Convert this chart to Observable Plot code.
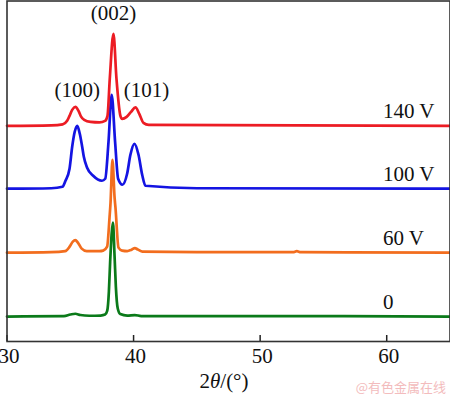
<!DOCTYPE html>
<html><head><meta charset="utf-8">
<script src="https://cdn.jsdelivr.net/npm/d3@7"></script>
<script src="https://cdn.jsdelivr.net/npm/@observablehq/plot@0.6"></script>
<style>body{margin:0;background:#fff} svg{display:block;overflow:hidden}</style>
</head><body><div id="chart"></div>
<script>
// series (bottom to top)
const seriesNames = ["0", "60 V", "100 V", "140 V"];
const seriesOffsets = [25, 89, 153, 216];
const seriesColors = ["#0b7a1a", "#f26d1e", "#1414e2", "#ec1c24"];

// 0 V
const theta0 = [30, 34.5, 35.0, 35.4, 35.8, 36.5, 37.4, 37.75, 37.92, 38.05, 38.15, 38.37, 38.5, 38.6, 38.75, 38.95, 39.5, 40.1, 40.6, 53, 65];
const int0   = [0, 0.5, 2, 2.8, 1.5, 0.8, 1, 2, 6, 25, 55, 94, 60, 30, 8, 2.5, 1, 1.5, 0.5, 0.5, 0];
// 60 V
const theta60 = [30, 33.5, 34.6, 34.95, 35.2, 35.4, 35.6, 35.9, 36.3, 37.3, 37.6, 37.91, 38.1, 38.18, 38.33, 38.5, 38.57, 38.81, 39.1, 39.5, 39.85, 40.1, 40.35, 40.7, 45, 52.6, 52.9, 53.2, 65];
const int60   = [0, 0.5, 1.5, 6, 11, 12.5, 10, 4, 1.5, 1.5, 2, 6, 35, 50, 93, 55, 45, 5, 2, 1.5, 3, 4.5, 3, 1, 0.5, 0.5, 1.5, 0.5, 0];
// 100 V
const theta100 = [30, 33.5, 34.38, 34.62, 34.94, 35.15, 35.35, 35.55, 35.75, 35.94, 36.07, 36.33, 36.81, 37.5, 37.76, 38.02, 38.27, 38.54, 38.78, 39.12, 39.49, 39.75, 40.07, 40.39, 40.68, 40.94, 45, 65];
const int100   = [0, 0.5, 2, 8, 20, 42, 57, 63, 55, 42, 32, 21, 13, 8, 10, 47, 94, 47, 10, 4, 15, 34, 45, 34, 14, 3, 0.5, 0];
// 140 V
const theta140 = [30, 33.5, 34.4, 34.75, 34.94, 35.15, 35.4, 35.65, 35.84, 36.1, 36.6, 37.3, 37.75, 37.94, 38.12, 38.41, 38.65, 38.96, 39.1, 39.45, 39.8, 40.15, 40.45, 40.78, 41.2, 53, 65];
const int140   = [0, 0.5, 1.5, 5, 10, 16, 19, 15, 9.5, 6, 4, 3.5, 5, 10, 47, 92, 47, 10, 7, 9, 14, 18.5, 12, 3, 1, 0.5, 0];

const seriesTheta = [theta0, theta60, theta100, theta140];
const seriesInt = [int0, int60, int100, int140];

// reflections
const hklLabels = ["(100)", "(002)", "(101)"];
const hklTheta = [35.4, 38.41, 40.15];
const xTicks = [30, 40, 50, 60];
const xLabel = ["2", "θ", "/(°)"];
const watermark = "@有色金属在线";

const rows = [];
seriesNames.forEach((name, i) => {
  seriesTheta[i].forEach((t, j) => rows.push({series: name, theta: t, y: seriesInt[i][j] + seriesOffsets[i]}));
});
const seriesRows = seriesNames.map((name, i) => ({series: name, y: seriesOffsets[i]}));
const topIdx = 3;
const hklRows = hklLabels.map((lab, k) => {
  const j = seriesTheta[topIdx].indexOf(hklTheta[k]);
  return {label: lab, theta: hklTheta[k], y: seriesInt[topIdx][j] + seriesOffsets[topIdx]};
});
const hklDx = [2, 0, 11];
const hklDy = [-10, -14, -10];

const FS = 21;
const plot = Plot.plot({
  width: 450, height: 395,
  marginLeft: 6.5, marginRight: 0.5, marginTop: 0.5, marginBottom: 54,
  style: {fontFamily: "'Liberation Serif', 'Times New Roman', serif", fontSize: FS + "px", background: "#fff"},
  x: {domain: [30, 65]},
  y: {domain: [0, 341]},
  color: {domain: seriesNames, range: seriesColors},
  marks: [
    Plot.axisX({ticks: xTicks, tickSize: 0, tickPadding: 7, dx: 2, label: null, fontSize: FS, fill: "#111"}),
    Plot.axisY({ticks: [], label: null, tickSize: 0}),
    Plot.ruleX(xTicks, {y1: 0, y2: 6, stroke: "#222", strokeWidth: 1.5}),
    Plot.line(rows, {x: "theta", y: "y", z: "series", stroke: "series", strokeWidth: 2.7, curve: "monotone-x"}),
    Plot.text(seriesRows, {x: 59.7, y: "y", text: "series", textAnchor: "start", lineAnchor: "bottom", dy: -8, fontSize: FS, fill: "#111"}),
    ...hklRows.map((r, k) => Plot.text([r], {x: "theta", y: "y", text: "label", lineAnchor: "bottom", dx: hklDx[k], dy: hklDy[k], fontSize: FS, fill: "#111"})),
    Plot.frame({stroke: "#333", strokeWidth: 1.6})
  ]
});

const svg = d3.select(plot);
const t = svg.append("text")
  .attr("x", 224).attr("y", 388)
  .attr("text-anchor", "middle")
  .attr("font-family", "'Liberation Serif', 'Times New Roman', serif")
  .attr("font-size", FS).attr("fill", "#111");
t.append("tspan").text(xLabel[0]);
t.append("tspan").attr("font-style", "italic").text(xLabel[1]);
t.append("tspan").text(xLabel[2]);
svg.append("text")
  .attr("x", 446).attr("y", 392)
  .attr("text-anchor", "end")
  .attr("font-family", "'Noto Sans CJK SC', sans-serif")
  .attr("font-size", 13).attr("fill", "#f3bcbd")
  .text(watermark);

document.getElementById("chart").appendChild(plot);
</script>
</body></html>
